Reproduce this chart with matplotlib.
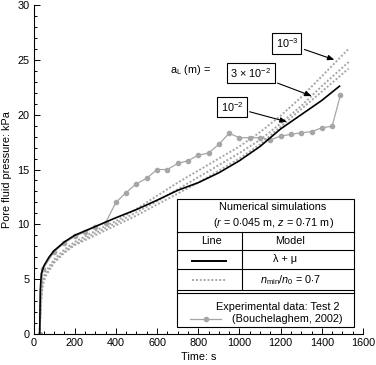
import matplotlib
matplotlib.use('Agg')
import matplotlib.pyplot as plt
from matplotlib.lines import Line2D
from matplotlib.ticker import MultipleLocator

plt.rcParams['font.family'] = ['Liberation Sans', 'DejaVu Sans']
plt.rcParams['mathtext.fontset'] = 'custom'
plt.rcParams['mathtext.rm'] = 'Liberation Sans'
plt.rcParams['mathtext.it'] = 'Liberation Sans:italic'

# experimental data (Test 2)
exp_t = [30, 45, 100, 150, 200, 250, 300, 350, 400, 450, 500, 550, 600, 650, 700, 750,
         800, 850, 900, 950, 1000, 1050, 1100, 1150, 1200, 1250, 1300, 1350, 1400, 1450, 1490]
exp_p = [0.0, 5.9, 7.5, 8.3, 8.9, 9.3, 9.8, 10.15, 12.0, 12.9, 13.7, 14.2, 15.0, 15.0, 15.55,
         15.8, 16.3, 16.5, 17.3, 18.3, 17.9, 17.9, 17.9, 17.7, 18.05, 18.2, 18.35, 18.45,
         18.8, 18.95, 21.75]

# lambda + mu model
lm_t = [30, 33, 38, 50, 75, 100, 150, 200, 250, 300, 350, 400, 500, 600, 700, 800,
        900, 1000, 1100, 1200, 1300, 1400, 1486]
lm_p = [0.0, 4.0, 5.5, 6.2, 7.0, 7.6, 8.4, 9.0, 9.4, 9.8, 10.2, 10.6, 11.35, 12.2, 13.1,
        13.8, 14.7, 15.8, 17.1, 18.7, 20.0, 21.3, 22.6]

# n_min/n_0 = 0.7, three a_L values
dot_t = [30, 35, 45, 60, 100, 150, 200, 300, 400, 500, 600, 700, 800, 900, 1000,
         1100, 1200, 1300, 1400, 1530]
dot_p_1e3 = [0.0, 3.0, 5.0, 5.7, 6.8, 7.7, 8.4, 9.4, 10.3, 11.4, 12.6, 13.8, 14.9, 16.0,
             17.1, 18.4, 19.9, 21.6, 23.5, 26.0]
dot_p_3e2 = [0.0, 2.8, 4.8, 5.5, 6.6, 7.5, 8.2, 9.2, 10.1, 11.1, 12.1, 13.2, 14.3, 15.4,
             16.5, 17.7, 19.2, 20.8, 22.6, 24.8]
dot_p_1e2 = [0.0, 2.5, 4.5, 5.3, 6.5, 7.4, 8.1, 9.0, 9.9, 10.8, 11.8, 12.8, 13.8, 14.9,
             16.0, 17.3, 18.9, 20.5, 22.1, 24.2]

W, H = 376, 365
GRAY = '#a6a6a6'
FS = 7.8


def px(x, y):
    return x / W, 1 - y / H


fig = plt.figure(figsize=(W / 100, H / 100), dpi=100)
ax = fig.add_axes([33.5 / W, 1 - 334 / H, (363 - 33.5) / W, (334 - 5) / H])

for p in (dot_p_1e3, dot_p_3e2, dot_p_1e2):
    ax.plot(dot_t, p, color=GRAY, lw=1.4, ls=(0, (1, 1)))
ax.plot(exp_t, exp_p, color=GRAY, lw=0.9, marker='o', ms=3, mec=GRAY, mfc=GRAY)
ax.plot(lm_t, lm_p, color='black', lw=1.2)

ax.set_xlim(0, 1600)
ax.set_ylim(0, 30)
ax.spines['top'].set_visible(False)
ax.spines['right'].set_visible(False)
for s in ('left', 'bottom'):
    ax.spines[s].set_linewidth(0.8)
ax.xaxis.set_major_locator(MultipleLocator(200))
ax.xaxis.set_minor_locator(MultipleLocator(50))
ax.yaxis.set_major_locator(MultipleLocator(5))
ax.yaxis.set_minor_locator(MultipleLocator(1))
ax.tick_params(which='both', direction='in', labelsize=FS, width=0.7)
ax.tick_params(which='major', length=4)
ax.tick_params(which='minor', length=2.2)
ax.tick_params(axis='x', pad=3)
ax.tick_params(axis='y', pad=3)
ax.set_xlabel('Time: s', fontsize=FS, labelpad=3)
ax.set_ylabel('Pore fluid pressure: kPa', fontsize=FS, labelpad=4)

# a_L annotations
akw = dict(fontsize=FS, ha='center', va='center',
           bbox=dict(boxstyle='square,pad=0.3', fc='white', ec='black', lw=0.8),
           arrowprops=dict(arrowstyle='-|>,head_length=0.5,head_width=0.2',
                           color='black', lw=0.8, shrinkB=0))
ax.annotate(r'10$^{-3}$', xy=(1461, 25.0), xytext=(1230, 26.5), **akw)
ax.annotate(r'3 $\times$ 10$^{-2}$', xy=(1351, 21.7), xytext=(1055, 23.8), **akw)
ax.annotate(r'10$^{-2}$', xy=(1230, 19.35), xytext=(964, 20.7), **akw)
ax.text(663, 24.1, r'a$_{\rm L}$ (m) =', fontsize=FS, ha='left', va='center')

# legend table
L, R, T, B = 177, 354, 199, 327
xm = 242


def seg(x0, y0, x1, y1, **kw):
    a, b = px(x0, y0), px(x1, y1)
    kw.setdefault('color', 'black')
    kw.setdefault('lw', 0.8)
    fig.add_artist(Line2D([a[0], b[0]], [a[1], b[1]], zorder=5, **kw))


def label(x, y, s, ha='center'):
    fx, fy = px(x, y)
    fig.text(fx, fy, s, fontsize=FS, ha=ha, va='center', zorder=6)


fig.add_artist(plt.Rectangle(px(L, B), (R - L) / W, (B - T) / H, transform=fig.transFigure,
                             fc='white', ec='black', lw=0.8, zorder=4))
for y in (232, 250, 268.5, 290, 292.5):
    seg(L, y, R, y)
seg(xm, 232, xm, 290)
label(273, 207, 'Numerical simulations')
label(274, 223, r'($r$ = 0$\cdot$045 m, $z$ = 0$\cdot$71 m)')
label(212, 241.5, 'Line')
label(290, 241.5, 'Model')
label(285, 259, 'λ + μ')
label(291, 280, r'$n_{\rm min}$/$n_0$ = 0$\cdot$7')
label(278, 306.5, 'Experimental data: Test 2')
label(287, 318.5, '(Bouchelaghem, 2002)')

seg(192, 260.5, 226, 260.5, lw=1.4)
seg(192, 279.5, 226, 279.5, color=GRAY, lw=1.4, ls=(0, (1, 1)))
seg(190, 319, 221, 319, color=GRAY, lw=0.9)
c = px(206, 319)
fig.add_artist(Line2D([c[0]], [c[1]], color=GRAY, marker='o', ms=3, zorder=5))

fig.savefig('out.png', dpi=100)
